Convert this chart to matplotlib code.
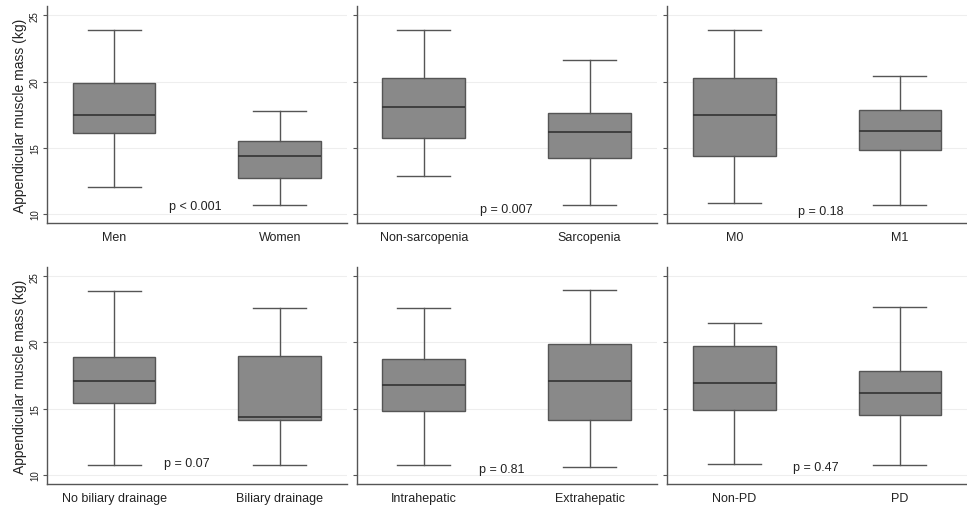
import matplotlib
matplotlib.use("Agg")
import matplotlib.pyplot as plt

plt.rcParams['font.family'] = ['Liberation Sans', 'DejaVu Sans']

# Panel data: categories, box stats (lower whisker, Q1, median, Q3, upper whisker), p-value labels
cats_sex = ["Men", "Women"]
whislo_sex = [12.0, 10.7]
q1_sex = [16.1, 12.7]
med_sex = [17.5, 14.4]
q3_sex = [19.9, 15.5]
whishi_sex = [23.9, 17.75]
p_sex = "p < 0.001"

cats_sarc = ["Non-sarcopenia", "Sarcopenia"]
whislo_sarc = [12.9, 10.7]
q1_sarc = [15.7, 14.25]
med_sarc = [18.05, 16.15]
q3_sarc = [20.25, 17.65]
whishi_sarc = [23.9, 21.6]
p_sarc = "p = 0.007"

cats_m = ["M0", "M1"]
whislo_m = [10.8, 10.7]
q1_m = [14.35, 14.85]
med_m = [17.5, 16.3]
q3_m = [20.3, 17.85]
whishi_m = [23.9, 20.45]
p_m = "p = 0.18"

cats_bil = ["No biliary drainage", "Biliary drainage"]
whislo_bil = [10.75, 10.7]
q1_bil = [15.45, 14.1]
med_bil = [17.1, 14.35]
q3_bil = [18.9, 19.0]
whishi_bil = [23.9, 22.6]
p_bil = "p = 0.07"

cats_loc = ["Intrahepatic", "Extrahepatic"]
whislo_loc = [10.7, 10.6]
q1_loc = [14.8, 14.1]
med_loc = [16.8, 17.1]
q3_loc = [18.75, 19.9]
whishi_loc = [22.6, 23.95]
p_loc = "p = 0.81"

cats_pd = ["Non-PD", "PD"]
whislo_pd = [10.8, 10.75]
q1_pd = [14.9, 14.5]
med_pd = [16.9, 16.2]
q3_pd = [19.75, 17.8]
whishi_pd = [21.5, 22.65]
p_pd = "p = 0.47"

yticks = [10, 15, 20, 25]
ylabel = "Appendicular muscle mass (kg)"

panels = [
    (cats_sex, whislo_sex, q1_sex, med_sex, q3_sex, whishi_sex, p_sex, (0.49, 10.6)),
    (cats_sarc, whislo_sarc, q1_sarc, med_sarc, q3_sarc, whishi_sarc, p_sarc, (0.50, 10.4)),
    (cats_m, whislo_m, q1_m, med_m, q3_m, whishi_m, p_m, (0.52, 10.25)),
    (cats_bil, whislo_bil, q1_bil, med_bil, q3_bil, whishi_bil, p_bil, (0.44, 10.85)),
    (cats_loc, whislo_loc, q1_loc, med_loc, q3_loc, whishi_loc, p_loc, (0.47, 10.45)),
    (cats_pd, whislo_pd, q1_pd, med_pd, q3_pd, whishi_pd, p_pd, (0.49, 10.55)),
]

fig = plt.figure(figsize=(9.67, 5.06), dpi=100)
fig.patch.set_facecolor("white")

lefts = [0.0486, 0.369, 0.690]
widths = [0.310, 0.310, 0.310]
bottoms = [0.557, 0.0415]
height = 0.429

line_c = "#555555"
fill_c = "#898989"
text_c = "#222222"

for i, (cats, lo, q1, med, q3, hi, ptxt, ppos) in enumerate(panels):
    r, c = divmod(i, 3)
    ax = fig.add_axes([lefts[c], bottoms[r], widths[c], height])
    stats = []
    for k in range(len(cats)):
        stats.append(dict(label=cats[k], whislo=lo[k], q1=q1[k], med=med[k],
                          q3=q3[k], whishi=hi[k], fliers=[]))
    ax.bxp(stats, positions=range(len(cats)), widths=0.5, capwidths=0.32,
           patch_artist=True, showfliers=False,
           boxprops=dict(facecolor=fill_c, edgecolor=line_c, linewidth=1.0),
           medianprops=dict(color="#333333", linewidth=1.2),
           whiskerprops=dict(color=line_c, linewidth=1.0),
           capprops=dict(color=line_c, linewidth=1.0))
    ax.set_xlim(-0.405, 1.405)
    ax.set_ylim(9.3, 25.7)
    ax.set_yticks(yticks)
    for y in yticks:
        ax.axhline(y, color="#eeeeee", linewidth=0.8, zorder=0)
    ax.spines["top"].set_visible(False)
    ax.spines["right"].set_visible(False)
    for s in ("left", "bottom"):
        ax.spines[s].set_color(line_c)
        ax.spines[s].set_linewidth(1.0)
    ax.tick_params(axis="x", length=0, pad=6, labelsize=9, labelcolor=text_c)
    ax.tick_params(axis="y", length=3, width=0.8, color=line_c, pad=2,
                   labelsize=7, labelcolor=text_c)
    if c == 0:
        for lab in ax.get_yticklabels():
            lab.set_rotation(90)
            lab.set_va("center")
        ax.set_ylabel(ylabel, fontsize=10, color=text_c, labelpad=2)
    else:
        ax.set_yticklabels([])
    ax.text(ppos[0], ppos[1], ptxt, ha="center", va="center", fontsize=9, color=text_c)

fig.savefig("out.png", dpi=100, facecolor="white")
